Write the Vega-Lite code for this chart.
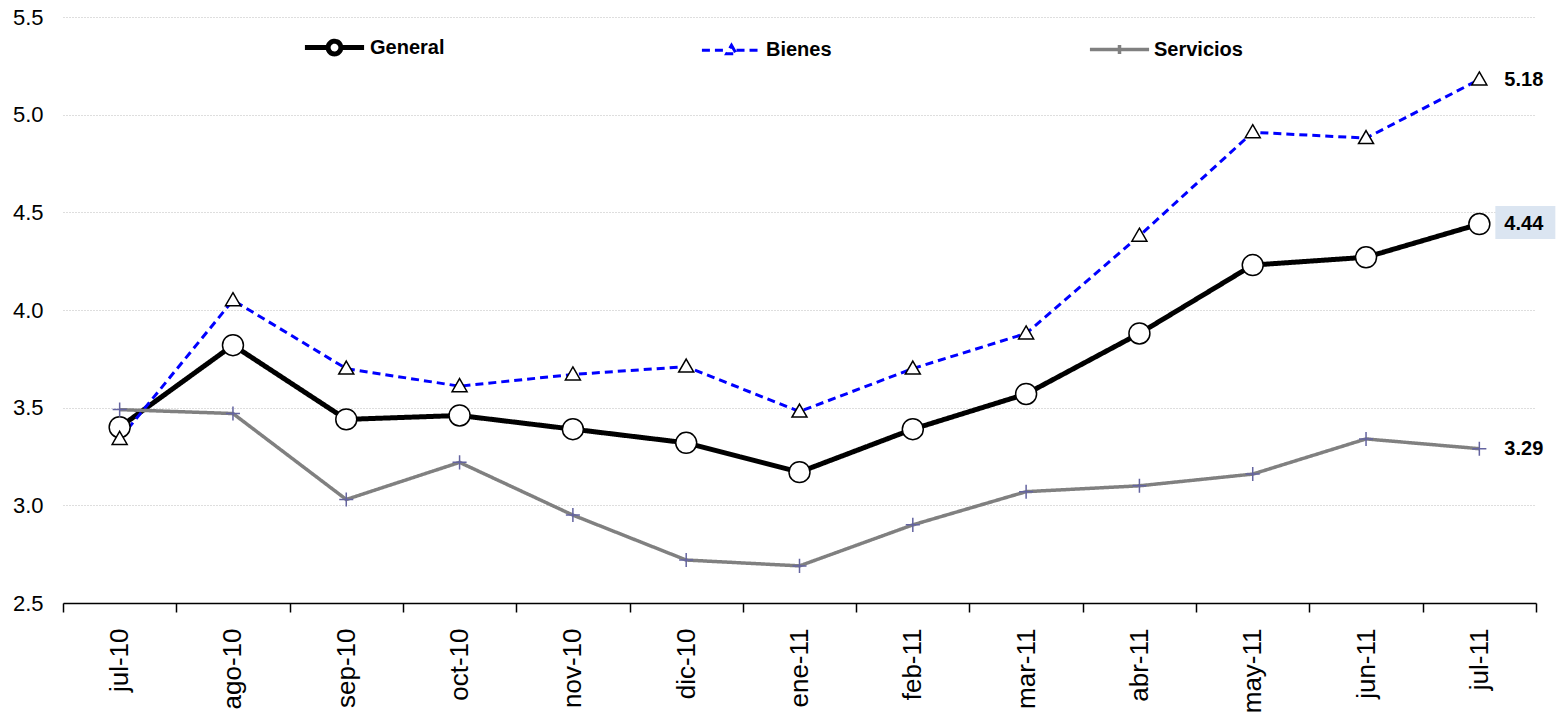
{
  "$schema": "https://vega.github.io/schema/vega-lite/v6.json",
  "width": 1473,
  "height": 586,
  "autosize": {"type": "none"},
  "padding": {"left": 63, "top": 17, "right": 29, "bottom": 114},
  "background": "white",
  "config": {"view": {"stroke": null}, "font": "Liberation Sans"},
  "data": {
    "values": [
      {"mes": "jul-10", "serie": "General", "valor": 3.40},
      {"mes": "ago-10", "serie": "General", "valor": 3.82},
      {"mes": "sep-10", "serie": "General", "valor": 3.44},
      {"mes": "oct-10", "serie": "General", "valor": 3.46},
      {"mes": "nov-10", "serie": "General", "valor": 3.39},
      {"mes": "dic-10", "serie": "General", "valor": 3.32},
      {"mes": "ene-11", "serie": "General", "valor": 3.17},
      {"mes": "feb-11", "serie": "General", "valor": 3.39},
      {"mes": "mar-11", "serie": "General", "valor": 3.57},
      {"mes": "abr-11", "serie": "General", "valor": 3.88},
      {"mes": "may-11", "serie": "General", "valor": 4.23},
      {"mes": "jun-11", "serie": "General", "valor": 4.27},
      {"mes": "jul-11", "serie": "General", "valor": 4.44},
      {"mes": "jul-10", "serie": "Bienes", "valor": 3.34},
      {"mes": "ago-10", "serie": "Bienes", "valor": 4.05},
      {"mes": "sep-10", "serie": "Bienes", "valor": 3.70},
      {"mes": "oct-10", "serie": "Bienes", "valor": 3.61},
      {"mes": "nov-10", "serie": "Bienes", "valor": 3.67},
      {"mes": "dic-10", "serie": "Bienes", "valor": 3.71},
      {"mes": "ene-11", "serie": "Bienes", "valor": 3.48},
      {"mes": "feb-11", "serie": "Bienes", "valor": 3.70},
      {"mes": "mar-11", "serie": "Bienes", "valor": 3.88},
      {"mes": "abr-11", "serie": "Bienes", "valor": 4.38},
      {"mes": "may-11", "serie": "Bienes", "valor": 4.91},
      {"mes": "jun-11", "serie": "Bienes", "valor": 4.88},
      {"mes": "jul-11", "serie": "Bienes", "valor": 5.18},
      {"mes": "jul-10", "serie": "Servicios", "valor": 3.49},
      {"mes": "ago-10", "serie": "Servicios", "valor": 3.47},
      {"mes": "sep-10", "serie": "Servicios", "valor": 3.03},
      {"mes": "oct-10", "serie": "Servicios", "valor": 3.22},
      {"mes": "nov-10", "serie": "Servicios", "valor": 2.95},
      {"mes": "dic-10", "serie": "Servicios", "valor": 2.72},
      {"mes": "ene-11", "serie": "Servicios", "valor": 2.69},
      {"mes": "feb-11", "serie": "Servicios", "valor": 2.90},
      {"mes": "mar-11", "serie": "Servicios", "valor": 3.07},
      {"mes": "abr-11", "serie": "Servicios", "valor": 3.10},
      {"mes": "may-11", "serie": "Servicios", "valor": 3.16},
      {"mes": "jun-11", "serie": "Servicios", "valor": 3.34},
      {"mes": "jul-11", "serie": "Servicios", "valor": 3.29}
    ]
  },
  "encoding": {
    "x": {
      "field": "mes",
      "type": "ordinal",
      "sort": ["jul-10", "ago-10", "sep-10", "oct-10", "nov-10", "dic-10", "ene-11", "feb-11", "mar-11", "abr-11", "may-11", "jun-11", "jul-11"],
      "scale": {"type": "band", "paddingInner": 0, "paddingOuter": 0},
      "bandPosition": 0.5,
      "axis": {
        "title": null,
        "labelAngle": 270,
        "labelAlign": "right",
        "labelBaseline": "middle",
        "labelFontSize": 26,
        "labelColor": "black",
        "labelPadding": 16,
        "tickBand": "extent",
        "tickSize": 9,
        "tickColor": "black",
        "tickWidth": 1.5,
        "domainColor": "black",
        "domainWidth": 1.5,
        "grid": false
      }
    },
    "y": {
      "field": "valor",
      "type": "quantitative",
      "scale": {"domain": [2.5, 5.5], "nice": false, "zero": false},
      "axis": {
        "title": null,
        "values": [2.5, 3, 3.5, 4, 4.5, 5, 5.5],
        "format": ".1f",
        "domain": false,
        "ticks": false,
        "labelFontSize": 22,
        "labelColor": "black",
        "labelPadding": 20,
        "grid": true,
        "gridColor": "#bdbdbd",
        "gridDash": [1, 2],
        "gridWidth": 1
      }
    }
  },
  "layer": [
    {
      "mark": {"type": "line", "strokeCap": "butt", "strokeJoin": "miter"},
      "encoding": {
        "color": {
          "field": "serie", "type": "nominal",
          "scale": {"domain": ["General", "Bienes", "Servicios"], "range": ["#000000", "#0000ff", "#808080"]},
          "legend": {"title": null, "orient": "none", "legendX": 239, "legendY": -2, "direction": "horizontal", "columnPadding": 250, "symbolSize": 3500, "symbolStrokeWidth": 2.5, "labelFontSize": 20, "labelFontWeight": "bold", "labelColor": "black", "labelOffset": 3, "padding": 0}
        },
        "strokeDash": {
          "field": "serie", "type": "nominal",
          "scale": {"domain": ["General", "Bienes", "Servicios"], "range": [[1, 0], [8, 5], [1, 0]]},
          "legend": {"title": null, "orient": "none", "legendX": 239, "legendY": -2, "direction": "horizontal", "columnPadding": 250, "symbolSize": 3500, "symbolStrokeWidth": 2.5, "labelFontSize": 20, "labelFontWeight": "bold", "labelColor": "black", "labelOffset": 3, "padding": 0}
        },
        "strokeWidth": {
          "field": "serie", "type": "nominal",
          "scale": {"type": "ordinal", "domain": ["General", "Bienes", "Servicios"], "range": [5, 3, 3.5]},
          "legend": null
        }
      }
    },
    {
      "transform": [{"filter": "false"}],
      "mark": {"type": "point", "filled": true, "fill": "white", "strokeWidth": 2.5, "opacity": 1},
      "encoding": {
        "shape": {
          "field": "serie", "type": "nominal",
          "scale": {"domain": ["General", "Bienes", "Servicios"], "range": ["M-1,0H-0.215M0.215,0H1M0.215,0A0.215,0.215,0,1,1,-0.215,0A0.215,0.215,0,1,1,0.215,0Z", "M-1,0H-0.17M0.17,0H1M0,-0.17L0.165,0.12L-0.165,0.12Z", "M-1,0H1M0,-0.15V0.15"]},
          "legend": {"title": null, "orient": "none", "legendX": 239, "legendY": -2, "direction": "horizontal", "columnPadding": 250, "symbolSize": 3500, "symbolStrokeWidth": 2.5, "labelFontSize": 20, "labelFontWeight": "bold", "labelColor": "black", "labelOffset": 3, "padding": 0}
        }
      }
    },
    {
      "transform": [{"filter": "datum.mes == 'jul-11' && datum.serie == 'General'"}],
      "mark": {"type": "point", "shape": "M0.32,-0.36H1.52V0.30H0.32Z", "size": 10000, "filled": true, "fill": "#dbe5f1", "strokeWidth": 0, "opacity": 1}
    },
    {
      "transform": [{"filter": "datum.serie == 'General'"}],
      "mark": {"type": "point", "shape": "M0.215,0A0.215,0.215,0,1,1,-0.215,0A0.215,0.215,0,1,1,0.215,0Z", "filled": true, "fill": "white", "stroke": "black", "size": 9500, "strokeWidth": 1.5, "opacity": 1}
    },
    {
      "transform": [{"filter": "datum.serie == 'Bienes'"}],
      "mark": {"type": "point", "shape": "M0,-0.155L0.154,0.112L-0.154,0.112Z", "filled": true, "fill": "white", "stroke": "black", "size": 9500, "strokeWidth": 1.5, "opacity": 1}
    },
    {
      "transform": [{"filter": "datum.serie == 'Servicios'"}],
      "mark": {"type": "point", "shape": "M-0.144,0H0.144M0,-0.144V0.144", "filled": false, "stroke": "#6464a0", "size": 9500, "strokeWidth": 1.5, "opacity": 1}
    },
    {
      "transform": [{"filter": "datum.mes == 'jul-11'"}],
      "mark": {"type": "text", "align": "left", "baseline": "middle", "dx": 25, "fontSize": 20, "fontWeight": "bold", "color": "black"},
      "encoding": {"text": {"field": "valor", "type": "quantitative", "format": ".2f"}}
    }
  ]
}
